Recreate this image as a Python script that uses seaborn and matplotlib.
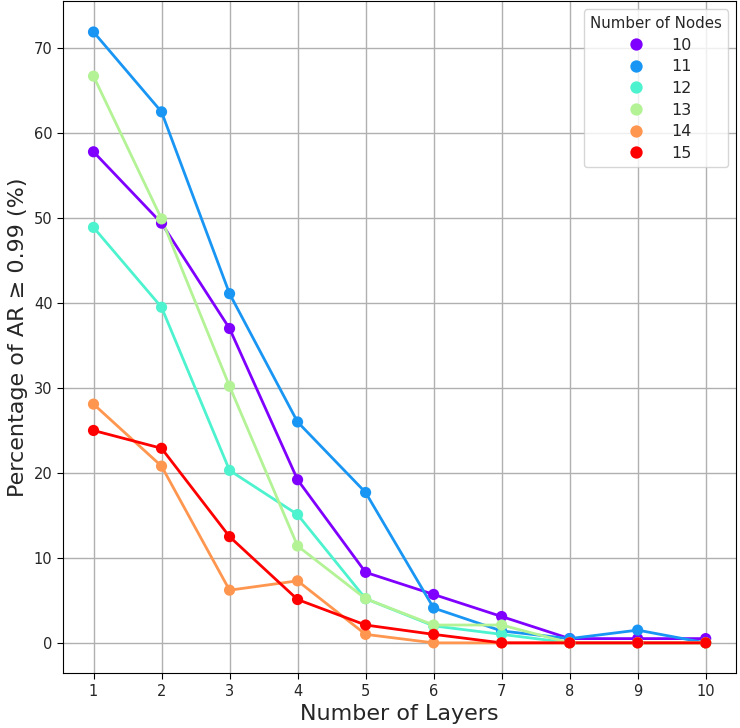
import numpy as np
import pandas as pd
import matplotlib
matplotlib.use("Agg")
import matplotlib.pyplot as plt
import seaborn as sns

# data
layers = [1, 2, 3, 4, 5, 6, 7, 8, 9, 10]
nodes = [10, 11, 12, 13, 14, 15]
pct_10 = [57.8, 49.4, 37.0, 19.2, 8.3, 5.7, 3.1, 0.5, 0.5, 0.5]
pct_11 = [71.9, 62.5, 41.1, 26.0, 17.7, 4.1, 1.4, 0.5, 1.5, 0.0]
pct_12 = [48.9, 39.5, 20.3, 15.1, 5.2, 2.0, 1.0, 0.0, 0.0, 0.0]
pct_13 = [66.7, 49.9, 30.2, 11.4, 5.2, 2.1, 2.1, 0.0, 0.0, 0.0]
pct_14 = [28.1, 20.8, 6.2, 7.3, 1.0, 0.0, 0.0, 0.0, 0.0, 0.0]
pct_15 = [25.0, 22.9, 12.5, 5.1, 2.1, 1.0, 0.0, 0.0, 0.0, 0.0]
series = [pct_10, pct_11, pct_12, pct_13, pct_14, pct_15]

rows = []
for n, vals in zip(nodes, series):
    for l, v in zip(layers, vals):
        rows.append({"layers": l, "nodes": n, "pct": v})
df = pd.DataFrame(rows)

colors = plt.cm.rainbow(np.linspace(0, 1, len(nodes)))
palette = {n: c for n, c in zip(nodes, colors)}

sns.set_style("whitegrid")
plt.rcParams["font.family"] = ["DejaVu Sans"]

fig, ax = plt.subplots(figsize=(7.4, 7.28), dpi=100)

# connecting lines (no legend entries)
for n in nodes:
    sub = df[df["nodes"] == n]
    ax.plot(sub["layers"], sub["pct"], color=palette[n], lw=2, zorder=2)

sns.scatterplot(data=df, x="layers", y="pct", hue="nodes", palette=palette,
                s=65, linewidth=0, ax=ax, zorder=3, legend="full")

ax.set_xticks(layers)
ax.set_xlabel("Number of Layers", fontsize=16)
ax.set_ylabel("Percentage of AR \u2265 0.99 (%)", fontsize=16)
ax.grid(True, color="#b0b0b0", lw=1)
for s in ax.spines.values():
    s.set_color("black")
    s.set_linewidth(0.8)
ax.tick_params(axis="both", which="both", length=4, color="black",
               labelsize=10.5, bottom=True, left=True)
ax.margins(x=0.05, y=0.05)

leg = ax.legend(title="Number of Nodes", loc="upper right", fontsize=11.5,
                title_fontsize=10.8, frameon=True, markerscale=1.1,
                handletextpad=1.2, labelspacing=0.42)

fig.subplots_adjust(left=0.085, right=0.995, top=0.998, bottom=0.075)
fig.savefig("out.png", dpi=100)
